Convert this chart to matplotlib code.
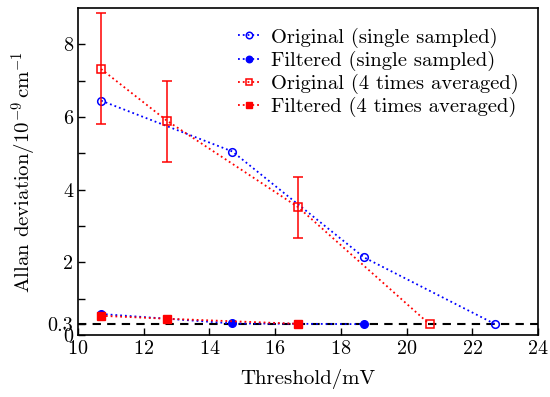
import matplotlib
matplotlib.use("Agg")
import matplotlib.pyplot as plt
import numpy as np

plt.rcParams['font.family'] = 'serif'
plt.rcParams['font.serif'] = ['cmr10']
plt.rcParams['mathtext.fontset'] = 'cm'
plt.rcParams['axes.formatter.use_mathtext'] = True

# data
x_single = [10.7, 14.7, 18.7, 22.7]
orig_single = [6.45, 5.05, 2.14, 0.30]
filt_single = [0.58, 0.32, 0.30]
x_avg = [10.7, 12.7, 16.7, 20.7]
orig_avg = [7.32, 5.9, 3.52, 0.30]
orig_avg_lo = [5.82, 4.77, 2.68]
orig_avg_hi = [8.85, 7.0, 4.35]
x_filt_avg = [10.7, 12.7, 16.7]
filt_avg = [0.53, 0.45, 0.31]
y_limit = 0.3

fig = plt.figure(figsize=(5.5, 3.97), dpi=100)
ax = fig.add_axes([0.142, 0.156, 0.836, 0.824])

ax.axhline(y_limit, color='k', ls=(0, (4, 3)), lw=1.5, zorder=1)

ax.plot(x_single, orig_single, ':', color='b', marker='o', mfc='none',
        ms=5.5, mew=1.1, lw=1.3, label='Original (single sampled)')
ax.plot(x_single[:3], filt_single, ':', color='b', marker='o',
        ms=5.5, lw=1.3, label='Filtered (single sampled)')
err = [np.array(orig_avg[:3]) - np.array(orig_avg_lo),
       np.array(orig_avg_hi) - np.array(orig_avg[:3])]
ax.errorbar(x_avg[:3], orig_avg[:3], yerr=err, fmt='none', ecolor='r',
            elinewidth=1.1, capsize=3.5, capthick=1.1)
ax.plot(x_avg, orig_avg, ':', color='r', marker='s', mfc='none',
        ms=5.5, mew=1.1, lw=1.3, label='Original (4 times averaged)')
ax.plot(x_filt_avg, filt_avg, ':', color='r', marker='s',
        ms=5.5, lw=1.3, label='Filtered (4 times averaged)')

ax.set_xlim(10, 24)
ax.set_ylim(0, 9)
ax.set_xticks([10, 12, 14, 16, 18, 20, 22, 24])
ax.set_yticks([0, 0.3, 2, 4, 6, 8])
ax.set_yticklabels(['0', '0.3', '2', '4', '6', '8'])
ax.set_yticks([1, 3, 5, 7], minor=True)
ax.tick_params(direction='in', labelsize=14.5, length=5, width=1)
ax.tick_params(which='minor', direction='in', length=5, width=1)
for s in ax.spines.values():
    s.set_linewidth(1.2)

ax.set_xlabel('Threshold/mV', fontsize=15, labelpad=8)
ax.set_ylabel(r'Allan deviation/$10^{-9}\,\mathrm{cm}^{-1}$', fontsize=15,
              labelpad=6)

ax.legend(loc='upper right', frameon=False, fontsize=14.8, handlelength=1.1,
          handletextpad=0.5, labelspacing=0.15, borderaxespad=0.55,
          markerscale=0.85)

fig.savefig('out.png', dpi=100)
